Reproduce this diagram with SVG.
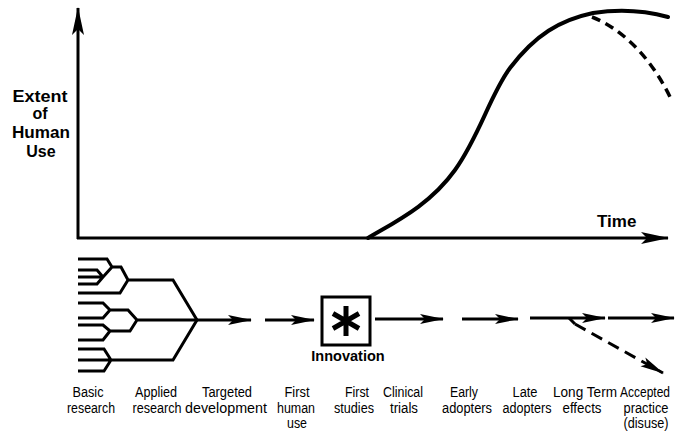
<svg xmlns="http://www.w3.org/2000/svg" width="678" height="432" viewBox="0 0 678 432">
<style>
.ln{fill:none;stroke:#000;stroke-width:3;stroke-linejoin:miter}
.crv{fill:none;stroke:#000;stroke-width:4;stroke-linecap:round}
.dsh{fill:none;stroke:#000;stroke-width:3.5;stroke-dasharray:9 6}
.dsh2{fill:none;stroke:#000;stroke-width:3;stroke-dasharray:12 7}
.bt{font-family:"Liberation Sans",Arial,sans-serif;font-weight:bold;fill:#000}
.lb{font-family:"Liberation Sans",Arial,sans-serif;font-size:14px;fill:#000;text-anchor:middle}
</style>
<defs>
<marker id="ah" viewBox="0 0 24 12" refX="23" refY="6" markerWidth="24" markerHeight="12" markerUnits="userSpaceOnUse" orient="auto"><path d="M0,1 L24,6 L0,11 L5,6 Z" fill="#000"/></marker>
<marker id="ax" viewBox="0 0 28 12" refX="27" refY="6" markerWidth="28" markerHeight="12" markerUnits="userSpaceOnUse" orient="auto"><path d="M0,0 L28,6 L0,12 L6,6 Z" fill="#000"/></marker>
</defs>
<rect width="678" height="432" fill="#fff"/>

<g id="axes">
<path class="ln" d="M78,239 V8" marker-end="url(#ax)"/>
<path class="ln" d="M77,238 H668" marker-end="url(#ax)"/>
<text class="bt" font-size="16" text-anchor="middle"><tspan x="40" y="102" textLength="55" lengthAdjust="spacingAndGlyphs">Extent</tspan><tspan x="40" y="119">of</tspan><tspan x="41" y="138" textLength="58" lengthAdjust="spacingAndGlyphs">Human</tspan><tspan x="41" y="157">Use</tspan></text>
<text class="bt" font-size="17" x="597" y="227">Time</text>
</g>

<g id="curve">
<path class="crv" d="M368,238 C395,222 430,205 455,170 C480,135 490,95 510,68 C535,35 560,20 593,13 C625,8 650,12 668,17"/>
<path class="dsh" d="M592,17 C620,28 650,55 671,99"/>
</g>

<g id="tree">
<path class="ln" d="M78,259 H107 L112,267 H121 L128,280 H173 L197,320 M78,293 H120 L128,280 M78,270 H97 L103,277 M78,277 H103 M78,284 H97 L103,277 M103,277 L112,267"/>
<path class="ln" d="M78,303 H103 L110,310 H128 L137,320 M78,318 H103 L110,310 M78,325 H103 L110,331 H130 L137,320 M78,340 H103 L110,331 M137,320 H197"/>
<path class="ln" d="M78,349 H104 L111,360 M78,360 H173 L197,320 M78,371 H104 L111,360"/>
</g>

<g id="innovation">
<rect x="322" y="297" width="48" height="48" fill="none" stroke="#000" stroke-width="3"/>
<path d="M346,306 V336 M333,313.5 L359,328.5 M333,328.5 L359,313.5" stroke="#000" stroke-width="5" fill="none"/>
<text class="bt" font-size="14.5" x="348" y="361" text-anchor="middle">Innovation</text>
</g>

<g id="connectors">
<path class="ln" d="M197,320 H251" marker-end="url(#ah)"/>
<path class="ln" d="M265,320 H314" marker-end="url(#ah)"/>
<path class="ln" d="M375,319 H443" marker-end="url(#ah)"/>
<path class="ln" d="M462,319 H518" marker-end="url(#ah)"/>
<path class="ln" d="M530,318 H605" marker-end="url(#ah)"/>
<path class="ln" d="M608,318 H674" marker-end="url(#ah)"/>
<path class="ln" d="M569,318 L575,324"/>
<path class="dsh2" d="M575,324 L663,373" marker-end="url(#ah)"/>
</g>

<g id="labels">
<text class="lb"><tspan x="88" y="397" textLength="31" lengthAdjust="spacingAndGlyphs">Basic</tspan><tspan x="91" y="413" textLength="48" lengthAdjust="spacingAndGlyphs">research</tspan></text>
<text class="lb"><tspan x="156" y="397" textLength="42" lengthAdjust="spacingAndGlyphs">Applied</tspan><tspan x="157" y="413" textLength="49" lengthAdjust="spacingAndGlyphs">research</tspan></text>
<text class="lb"><tspan x="227" y="397" textLength="50" lengthAdjust="spacingAndGlyphs">Targeted</tspan><tspan x="226" y="413" textLength="82" lengthAdjust="spacingAndGlyphs">development</tspan></text>
<text class="lb"><tspan x="297" y="397" textLength="25" lengthAdjust="spacingAndGlyphs">First</tspan><tspan x="296" y="413" textLength="38" lengthAdjust="spacingAndGlyphs">human</tspan><tspan x="297" y="428" textLength="20" lengthAdjust="spacingAndGlyphs">use</tspan></text>
<text class="lb"><tspan x="357" y="397" textLength="24" lengthAdjust="spacingAndGlyphs">First</tspan><tspan x="354" y="413" textLength="40" lengthAdjust="spacingAndGlyphs">studies</tspan></text>
<text class="lb"><tspan x="403" y="397" textLength="40" lengthAdjust="spacingAndGlyphs">Clinical</tspan><tspan x="404" y="413" textLength="28" lengthAdjust="spacingAndGlyphs">trials</tspan></text>
<text class="lb"><tspan x="464" y="397" textLength="28" lengthAdjust="spacingAndGlyphs">Early</tspan><tspan x="467" y="413" textLength="50" lengthAdjust="spacingAndGlyphs">adopters</tspan></text>
<text class="lb"><tspan x="525" y="397" textLength="25" lengthAdjust="spacingAndGlyphs">Late</tspan><tspan x="527" y="413" textLength="49" lengthAdjust="spacingAndGlyphs">adopters</tspan></text>
<text class="lb"><tspan x="585" y="397" textLength="64" lengthAdjust="spacingAndGlyphs">Long Term</tspan><tspan x="582" y="413" textLength="39" lengthAdjust="spacingAndGlyphs">effects</tspan></text>
<text class="lb"><tspan x="645" y="397" textLength="50" lengthAdjust="spacingAndGlyphs">Accepted</tspan><tspan x="646" y="413" textLength="45" lengthAdjust="spacingAndGlyphs">practice</tspan><tspan x="646" y="428" textLength="45" lengthAdjust="spacingAndGlyphs">(disuse)</tspan></text>
</g>
</svg>
